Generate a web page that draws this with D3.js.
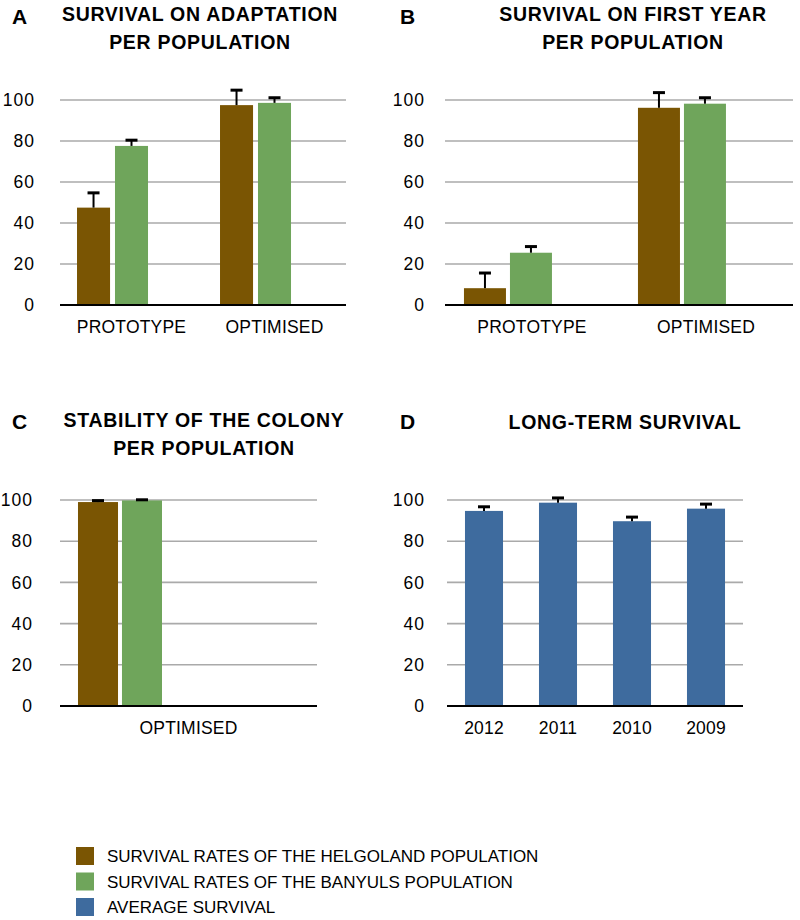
<!DOCTYPE html>
<meta charset="utf-8">
<style>
body{margin:0;background:#fff;}
text{font-family:"Liberation Sans",Arial,Helvetica,sans-serif;fill:#000;}
.title{font-size:19.5px;font-weight:bold;letter-spacing:0.7px;}
.letter{font-size:21px;font-weight:bold;}
.tick text{font-size:17.5px;letter-spacing:1px;}
.cat{font-size:17.5px;letter-spacing:0.2px;}
.legend text{font-size:17px;}
.grid{stroke:#aaaaaa;stroke-width:1.6px;}
.base{stroke:#000;stroke-width:2px;}
</style>
<body>
<script src="https://d3js.org/d3.v7.min.js"></script>
<script>

var seriesNames=["SURVIVAL RATES OF THE HELGOLAND POPULATION","SURVIVAL RATES OF THE BANYULS POPULATION","AVERAGE SURVIVAL"];
var seriesColors=["#7a5503","#6fa55b","#3e6b9e"];
var yTicks=[0,20,40,60,80,100];

// A - survival on adaptation
var catsA=["PROTOTYPE","OPTIMISED"];
var helgolandA=[47.5,97.5], helgolandErrA=[7.2,7.3];
var banyulsA=[77.6,98.6], banyulsErrA=[2.8,2.5];

// B - survival on first year
var catsB=["PROTOTYPE","OPTIMISED"];
var helgolandB=[8.2,96.2], helgolandErrB=[7.4,7.4];
var banyulsB=[25.5,98.2], banyulsErrB=[3.0,2.9];

// C - stability of the colony
var catsC=["OPTIMISED"];
var helgolandC=[99], helgolandErrC=[0.7];
var banyulsC=[99.8], banyulsErrC=[0.3];

// D - long-term survival
var catsD=["2012","2011","2010","2009"];
var averageD=[94.7,98.7,89.7,95.8], averageErrD=[2.0,2.3,2.0,2.2];

var panels=[
  {letter:"A",title:["SURVIVAL ON ADAPTATION","PER POPULATION"],cats:catsA,
   series:[{s:0,v:helgolandA,e:helgolandErrA},{s:1,v:banyulsA,e:banyulsErrA},{s:2,v:catsA.map(()=>null),e:[]}],
   left:60,right:346,top:100,bottom:305,inner:[0.119,0.881,0.13],pad:25,
   lx:12,ly:24,tx:200,ty:21},
  {letter:"B",title:["SURVIVAL ON FIRST YEAR","PER POPULATION"],cats:catsB,
   series:[{s:0,v:helgolandB,e:helgolandErrB},{s:1,v:banyulsB,e:banyulsErrB},{s:2,v:catsB.map(()=>null),e:[]}],
   left:445,right:793,top:100,bottom:305,inner:[0.109,0.879,0.087],pad:20,
   lx:400,ly:24,tx:633,ty:21},
  {letter:"C",title:["STABILITY OF THE COLONY","PER POPULATION"],cats:catsC,
   series:[{s:0,v:helgolandC,e:helgolandErrC},{s:1,v:banyulsC,e:banyulsErrC},{s:2,v:catsC.map(()=>null),e:[]}],
   left:60,right:317,top:500,bottom:706,inner:[0.07,0.568,0.09],pad:27,
   lx:12,ly:429,tx:204,ty:427},
  {letter:"D",title:["LONG-TERM SURVIVAL"],cats:catsD,
   series:[{s:2,v:averageD,e:averageErrD}],
   left:447,right:743,top:500,bottom:706,inner:[0.243,0.757,0],pad:22,
   lx:400,ly:429,tx:625,ty:429}
];

var svg=d3.select("body").append("svg").attr("width",800).attr("height",920);

panels.forEach(drawPanel);

function drawPanel(p){
  var g=svg.append("g");
  var x=d3.scaleBand().domain(p.cats).range([p.left,p.right]).padding(0);
  var bw=x.bandwidth();
  var xs=d3.scaleBand().domain(p.series.map(d=>d.s))
    .range([bw*p.inner[0],bw*p.inner[1]]).paddingInner(p.inner[2]).paddingOuter(0);
  var y=d3.scaleLinear().domain([0,100]).range([p.bottom,p.top]);

  g.selectAll(".grid").data(yTicks.filter(t=>t>0)).join("line")
    .attr("class","grid")
    .attr("x1",p.left).attr("x2",p.right)
    .attr("y1",d=>y(d)).attr("y2",d=>y(d));

  g.append("g").attr("transform","translate("+p.left+",0)")
    .call(d3.axisLeft(y).tickValues(yTicks).tickSize(0).tickPadding(p.pad))
    .call(a=>a.select(".domain").remove());

  // flatten bars
  var bars=[];
  p.series.forEach(function(sr){
    p.cats.forEach(function(c,i){
      if(sr.v[i]!=null) bars.push({cat:c,s:sr.s,v:sr.v[i],e:sr.e[i]});
    });
  });

  g.selectAll(".bar").data(bars).join("rect")
    .attr("class","bar")
    .attr("x",d=>x(d.cat)+xs(d.s))
    .attr("width",xs.bandwidth())
    .attr("y",d=>y(d.v))
    .attr("height",d=>y(0)-y(d.v))
    .attr("fill",d=>seriesColors[d.s]);

  var cx=d=>x(d.cat)+xs(d.s)+xs.bandwidth()/2;
  g.selectAll(".errv").data(bars).join("line")
    .attr("class","errv")
    .attr("x1",cx).attr("x2",cx)
    .attr("y1",d=>y(d.v)).attr("y2",d=>y(d.v+d.e))
    .attr("stroke","#000").attr("stroke-width",2);
  g.selectAll(".errc").data(bars).join("line")
    .attr("class","errc")
    .attr("x1",d=>cx(d)-6).attr("x2",d=>cx(d)+6)
    .attr("y1",d=>y(d.v+d.e)).attr("y2",d=>y(d.v+d.e))
    .attr("stroke","#000").attr("stroke-width",3);

  g.append("line").attr("class","base")
    .attr("x1",p.left).attr("x2",p.right)
    .attr("y1",y(0)).attr("y2",y(0));

  g.selectAll(".cat").data(p.cats).join("text")
    .attr("class","cat")
    .attr("x",d=>x(d)+bw/2)
    .attr("y",p.bottom+28)
    .attr("text-anchor","middle")
    .text(d=>d);

  g.append("text").attr("class","letter").attr("x",p.lx).attr("y",p.ly).text(p.letter);
  g.selectAll(".title").data(p.title).join("text")
    .attr("class","title")
    .attr("x",p.tx).attr("y",(d,i)=>p.ty+i*28)
    .attr("text-anchor","middle")
    .text(d=>d);
}

var legend=svg.append("g").attr("class","legend");
var li=legend.selectAll("g").data(seriesNames).join("g")
  .attr("transform",(d,i)=>"translate(76,"+(847+i*25.5)+")");
li.append("rect").attr("width",18).attr("height",18).attr("fill",(d,i)=>seriesColors[i]);
li.append("text").attr("x",31).attr("y",15).text(d=>d);

</script>
</body>
</html>
